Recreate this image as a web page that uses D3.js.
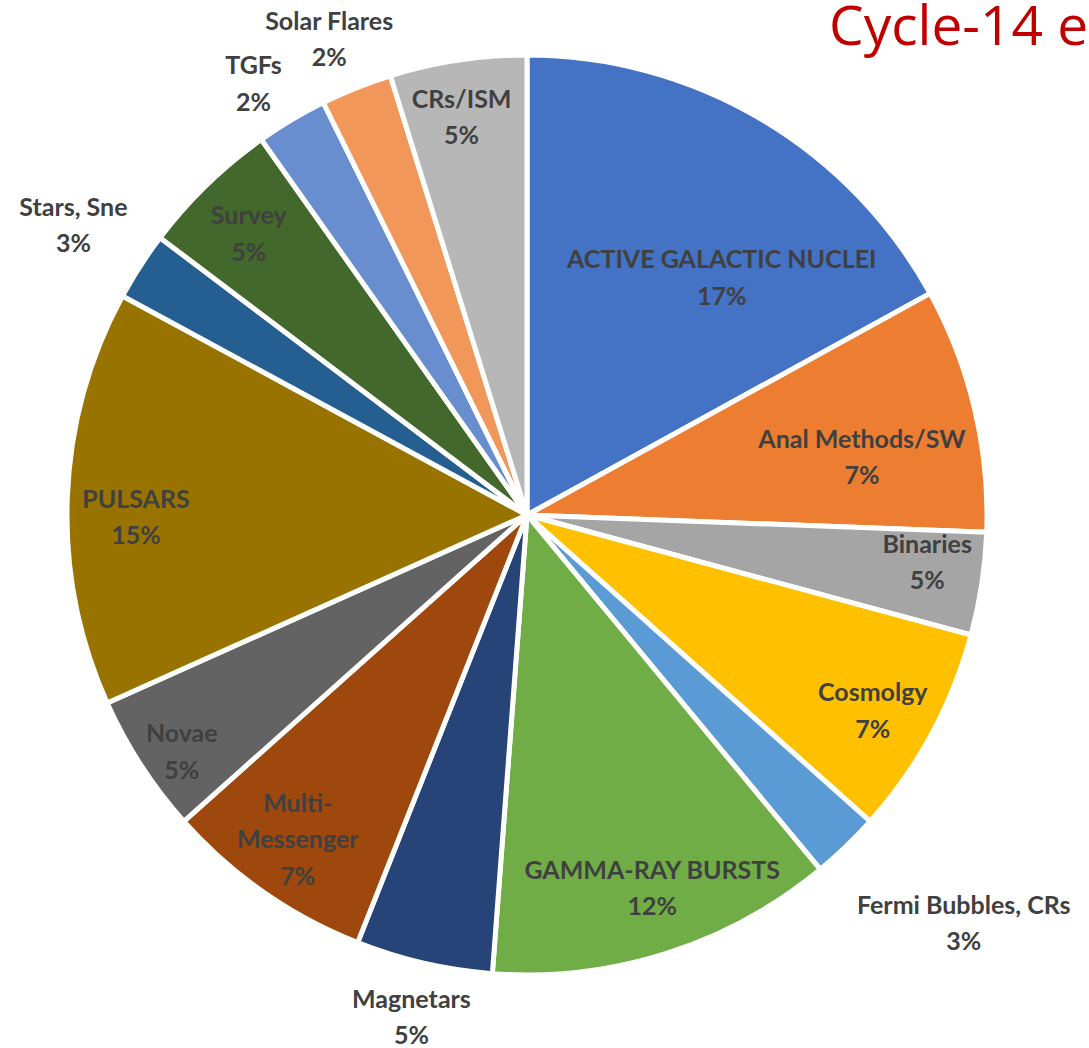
<!DOCTYPE html>
<html>
<head>
<meta charset="utf-8">
<script src="https://cdn.jsdelivr.net/npm/d3@7"></script>
<style>
    body { margin: 0; background: #fff; }
    svg { display: block; }
    .slice-label { font-family: Lato, "Open Sans", sans-serif; font-weight: 700; fill: #404040; }
    .title { font-family: "Open Sans", Lato, sans-serif; fill: #C00000; }
</style>
</head>
<body>
<div id="chart"></div>
<script>
// Chart data, clockwise from 12 o'clock
const categories = [
    "ACTIVE GALACTIC NUCLEI", "Anal Methods/SW", "Binaries", "Cosmolgy",
    "Fermi Bubbles, CRs", "GAMMA-RAY BURSTS", "Magnetars", "Multi-\nMessenger",
    "Novae", "PULSARS", "Stars, Sne", "Survey", "TGFs", "Solar Flares", "CRs/ISM"
];
const values = [17.0, 8.6, 3.6, 7.4, 2.4, 12.2, 4.8, 7.4, 4.9, 14.6, 2.4, 4.9, 2.5, 2.5, 4.8];
const shownPct = ["17%", "7%", "5%", "7%", "3%", "12%", "5%", "7%", "5%", "15%", "3%", "5%", "2%", "2%", "5%"];
const colors = [
    "#4472C4", "#ED7D31", "#A5A5A5", "#FFC000", "#5B9BD5", "#70AD47", "#264478", "#9E480E",
    "#636363", "#997300", "#255E91", "#43682B", "#698ED0", "#F1975A", "#B7B7B7"
];

// label placement: radius as fraction of pie radius, angle nudge in degrees
const labelLayout = [
    {r: 0.667, da: 8.8}, {r: 0.739, da: 3.5}, {r: 0.876, da: -1.9}, {r: 0.864, da: 1.1},
    {r: 1.30, da: -3.0}, {r: 0.856, da: -0.9}, {r: 1.12, da: 0}, {r: 0.864, da: 0.3},
    {r: 0.91, da: -1.5}, {r: 0.85, da: -2.5}, {r: 1.17, da: -0.2}, {r: 0.86, da: -0.6},
    {r: 1.11, da: -1.6}, {r: 1.12, da: -0.8}, {r: 0.876, da: -0.7}
];

const width = 1089, height = 1048;
const cx = 527, cy = 515, radius = 460;

const svg = d3.select("#chart").append("svg")
    .attr("width", width)
    .attr("height", height);

// Title (runs to the right edge, as in the slide)
svg.append("text")
    .attr("class", "title")
    .attr("x", 829)
    .attr("y", 45)
    .style("font-size", "55px")
    .text("Cycle-14 e");

const pie = d3.pie().sort(null).value(d => d);
const arcs = pie(values);

const arc = d3.arc().innerRadius(0).outerRadius(radius);

const g = svg.append("g")
    .attr("transform", `translate(${cx}, ${cy})`);

g.selectAll("path")
    .data(arcs)
    .enter().append("path")
    .attr("d", arc)
    .attr("fill", (d, i) => colors[i])
    .attr("stroke", "#fff")
    .attr("stroke-width", 5)
    .attr("stroke-linejoin", "round");

// Labels
const lineH = 36.5;
const labels = g.selectAll("text.slice-label")
    .data(arcs)
    .enter().append("text")
    .attr("class", "slice-label")
    .style("font-size", "25px")
    .attr("text-anchor", "middle")
    .attr("transform", (d, i) => {
        let a = (d.startAngle + d.endAngle) / 2 + labelLayout[i].da * Math.PI / 180;
        let r = labelLayout[i].r * radius;
        return `translate(${r * Math.sin(a)}, ${-r * Math.cos(a)})`;
    });

labels.each(function (d, i) {
    let lines = categories[i].split("\n").concat([shownPct[i]]);
    let t = d3.select(this);
    let y0 = -(lines.length - 1) / 2 * lineH;
    lines.forEach((ln, k) => {
        t.append("tspan")
            .attr("x", 0)
            .attr("y", y0 + k * lineH)
            .attr("dy", "0.35em")
            .text(ln);
    });
});
</script>
</body>
</html>
